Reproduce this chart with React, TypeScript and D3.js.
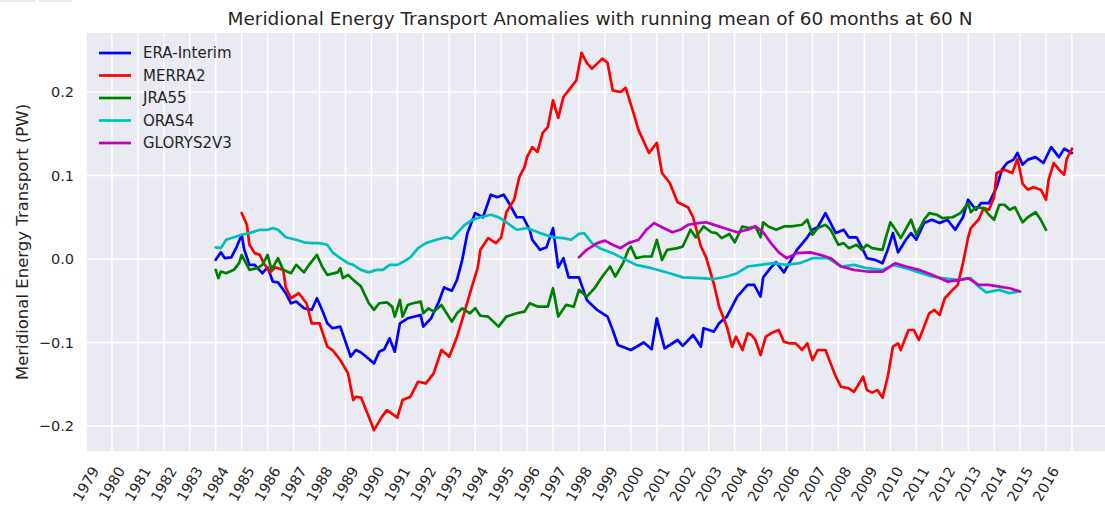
import React from 'react';
import * as d3 from 'd3';

// values: [decimal year, PW]
const eraInterim: [number, number][] = [
  [1984.0,-0.001],[1984.2,0.008],[1984.35,0.001],[1984.6,0.002],[1984.8,0.014],[1985.0,0.029],[1985.1,0.011],[1985.3,-0.007],[1985.5,-0.007],[1985.8,-0.017],[1986.0,-0.01],[1986.2,-0.027],[1986.4,-0.028],[1986.7,-0.041],[1986.9,-0.053],[1987.1,-0.051],[1987.4,-0.059],[1987.7,-0.061],[1987.9,-0.047],[1988.1,-0.061],[1988.3,-0.077],[1988.5,-0.083],[1988.8,-0.081],[1989.0,-0.099],[1989.2,-0.117],[1989.4,-0.109],[1989.6,-0.112],[1989.8,-0.117],[1990.1,-0.125],[1990.3,-0.111],[1990.5,-0.108],[1990.7,-0.095],[1990.9,-0.111],[1991.1,-0.077],[1991.4,-0.071],[1991.9,-0.067],[1992.0,-0.081],[1992.3,-0.071],[1992.6,-0.051],[1992.8,-0.034],[1993.1,-0.038],[1993.3,-0.025],[1993.5,-0.001],[1993.7,0.031],[1994.0,0.055],[1994.3,0.05],[1994.6,0.077],[1994.85,0.074],[1995.1,0.077],[1995.3,0.067],[1995.6,0.05],[1995.85,0.05],[1996.1,0.035],[1996.2,0.023],[1996.5,0.011],[1996.75,0.014],[1997.0,0.037],[1997.2,-0.01],[1997.4,0.001],[1997.6,-0.022],[1998.0,-0.022],[1998.3,-0.049],[1998.7,-0.061],[1999.1,-0.069],[1999.3,-0.085],[1999.5,-0.103],[2000.0,-0.109],[2000.5,-0.1],[2000.8,-0.108],[2001.0,-0.071],[2001.3,-0.107],[2001.8,-0.097],[2002.0,-0.104],[2002.4,-0.091],[2002.7,-0.105],[2002.8,-0.083],[2003.2,-0.087],[2003.4,-0.077],[2003.7,-0.069],[2003.9,-0.057],[2004.1,-0.045],[2004.5,-0.031],[2004.75,-0.031],[2005.0,-0.045],[2005.1,-0.022],[2005.4,-0.01],[2005.6,-0.004],[2005.9,-0.016],[2006.1,-0.005],[2006.4,0.011],[2006.8,0.026],[2007.0,0.035],[2007.2,0.038],[2007.5,0.055],[2007.7,0.043],[2007.9,0.031],[2008.2,0.035],[2008.4,0.026],[2008.7,0.026],[2008.9,0.014],[2009.1,0.001],[2009.4,-0.001],[2009.7,-0.005],[2009.9,0.011],[2010.1,0.031],[2010.3,0.008],[2010.6,0.023],[2010.8,0.031],[2011.0,0.023],[2011.3,0.043],[2011.6,0.047],[2011.9,0.043],[2012.2,0.047],[2012.5,0.035],[2012.8,0.05],[2013.0,0.071],[2013.3,0.059],[2013.5,0.067],[2013.8,0.067],[2014.1,0.086],[2014.3,0.107],[2014.5,0.115],[2014.75,0.119],[2014.9,0.127],[2015.1,0.113],[2015.3,0.119],[2015.6,0.122],[2015.9,0.115],[2016.2,0.134],[2016.5,0.122],[2016.7,0.132],[2017.0,0.127],
];

const merra2: [number, number][] = [
  [1985.0,0.055],[1985.2,0.041],[1985.3,0.017],[1985.5,0.007],[1985.7,0.005],[1985.85,-0.005],[1986.1,-0.016],[1986.3,-0.01],[1986.6,-0.013],[1986.7,-0.034],[1986.9,-0.047],[1987.2,-0.041],[1987.5,-0.053],[1987.7,-0.077],[1988.0,-0.077],[1988.3,-0.105],[1988.5,-0.109],[1988.8,-0.121],[1989.1,-0.137],[1989.3,-0.169],[1989.4,-0.165],[1989.6,-0.166],[1989.9,-0.189],[1990.1,-0.205],[1990.4,-0.189],[1990.6,-0.181],[1991.0,-0.19],[1991.2,-0.169],[1991.5,-0.165],[1991.8,-0.147],[1992.1,-0.149],[1992.4,-0.137],[1992.7,-0.109],[1993.0,-0.117],[1993.3,-0.093],[1993.5,-0.073],[1993.8,-0.041],[1994.1,-0.01],[1994.2,0.011],[1994.5,0.025],[1994.8,0.019],[1995.0,0.026],[1995.2,0.056],[1995.5,0.071],[1995.7,0.098],[1995.9,0.11],[1996.0,0.122],[1996.2,0.134],[1996.4,0.128],[1996.6,0.151],[1996.8,0.158],[1997.0,0.19],[1997.2,0.169],[1997.4,0.194],[1997.6,0.202],[1997.9,0.214],[1998.1,0.247],[1998.3,0.235],[1998.5,0.228],[1998.9,0.24],[1999.1,0.235],[1999.3,0.202],[1999.6,0.2],[1999.8,0.205],[2000.1,0.175],[2000.3,0.154],[2000.7,0.127],[2001.0,0.139],[2001.2,0.103],[2001.5,0.091],[2001.8,0.068],[2002.2,0.062],[2002.4,0.05],[2002.7,0.015],[2002.9,0.002],[2003.2,-0.03],[2003.4,-0.057],[2003.7,-0.081],[2003.9,-0.105],[2004.05,-0.093],[2004.3,-0.109],[2004.5,-0.089],[2004.65,-0.091],[2004.8,-0.097],[2005.0,-0.115],[2005.2,-0.093],[2005.4,-0.089],[2005.7,-0.085],[2005.9,-0.099],[2006.1,-0.101],[2006.35,-0.101],[2006.6,-0.109],[2006.8,-0.101],[2007.0,-0.121],[2007.2,-0.109],[2007.5,-0.109],[2007.7,-0.125],[2007.9,-0.141],[2008.1,-0.153],[2008.4,-0.155],[2008.6,-0.159],[2008.8,-0.149],[2008.95,-0.141],[2009.1,-0.157],[2009.3,-0.16],[2009.5,-0.157],[2009.7,-0.166],[2009.9,-0.141],[2010.1,-0.105],[2010.3,-0.101],[2010.4,-0.109],[2010.7,-0.085],[2010.9,-0.085],[2011.1,-0.097],[2011.3,-0.081],[2011.5,-0.065],[2011.7,-0.061],[2011.9,-0.067],[2012.1,-0.047],[2012.4,-0.037],[2012.6,-0.031],[2012.8,-0.005],[2013.0,0.026],[2013.1,0.037],[2013.4,0.047],[2013.6,0.061],[2013.8,0.059],[2014.0,0.074],[2014.1,0.103],[2014.4,0.107],[2014.7,0.103],[2014.9,0.12],[2015.1,0.09],[2015.3,0.083],[2015.5,0.086],[2015.8,0.083],[2016.0,0.071],[2016.1,0.095],[2016.3,0.115],[2016.5,0.107],[2016.7,0.101],[2016.8,0.12],[2017.0,0.132],
];

const jra55: [number, number][] = [
  [1984.0,-0.013],[1984.1,-0.023],[1984.2,-0.015],[1984.4,-0.017],[1984.7,-0.013],[1984.9,-0.005],[1985.0,0.005],[1985.1,-0.001],[1985.3,-0.013],[1985.6,-0.011],[1985.8,-0.007],[1986.0,0.005],[1986.15,-0.013],[1986.4,0.001],[1986.6,-0.013],[1986.75,-0.015],[1986.9,-0.017],[1987.1,-0.007],[1987.4,-0.016],[1987.6,-0.007],[1987.9,0.005],[1988.1,-0.009],[1988.3,-0.019],[1988.7,-0.016],[1988.8,-0.011],[1988.9,-0.023],[1989.1,-0.019],[1989.3,-0.025],[1989.6,-0.033],[1989.9,-0.053],[1990.1,-0.061],[1990.3,-0.053],[1990.6,-0.052],[1990.8,-0.057],[1990.9,-0.069],[1991.1,-0.049],[1991.2,-0.069],[1991.4,-0.055],[1991.6,-0.053],[1991.9,-0.051],[1992.0,-0.065],[1992.2,-0.059],[1992.4,-0.063],[1992.7,-0.055],[1992.9,-0.065],[1993.1,-0.075],[1993.3,-0.065],[1993.5,-0.059],[1993.8,-0.065],[1994.0,-0.059],[1994.2,-0.068],[1994.5,-0.069],[1994.9,-0.081],[1995.2,-0.069],[1995.6,-0.065],[1995.9,-0.063],[1996.1,-0.053],[1996.4,-0.057],[1996.8,-0.057],[1997.0,-0.035],[1997.2,-0.069],[1997.5,-0.055],[1997.8,-0.057],[1998.0,-0.037],[1998.3,-0.045],[1998.6,-0.035],[1998.9,-0.021],[1999.2,-0.009],[1999.4,-0.021],[1999.7,-0.005],[1999.9,0.011],[2000.0,0.015],[2000.2,0.001],[2000.5,0.003],[2000.8,0.003],[2001.0,0.023],[2001.2,-0.001],[2001.4,0.011],[2001.8,0.013],[2002.0,0.015],[2002.3,0.035],[2002.5,0.026],[2002.8,0.039],[2003.1,0.032],[2003.3,0.031],[2003.5,0.025],[2003.8,0.03],[2004.0,0.02],[2004.3,0.039],[2004.55,0.037],[2004.8,0.039],[2005.0,0.026],[2005.1,0.044],[2005.3,0.039],[2005.6,0.035],[2005.9,0.039],[2006.2,0.039],[2006.6,0.041],[2006.8,0.047],[2007.0,0.029],[2007.2,0.037],[2007.5,0.041],[2007.7,0.035],[2008.0,0.017],[2008.2,0.019],[2008.4,0.013],[2008.7,0.017],[2008.9,0.011],[2009.1,0.017],[2009.3,0.013],[2009.7,0.011],[2009.8,0.023],[2010.0,0.044],[2010.2,0.035],[2010.4,0.025],[2010.8,0.047],[2011.0,0.029],[2011.3,0.047],[2011.5,0.055],[2011.8,0.053],[2012.0,0.049],[2012.4,0.05],[2012.7,0.055],[2013.0,0.067],[2013.1,0.056],[2013.3,0.062],[2013.6,0.061],[2013.8,0.053],[2014.0,0.047],[2014.2,0.065],[2014.4,0.065],[2014.6,0.059],[2014.8,0.062],[2015.1,0.044],[2015.3,0.05],[2015.6,0.056],[2015.8,0.047],[2016.0,0.035],
];

const oras4: [number, number][] = [
  [1984.0,0.014],[1984.2,0.013],[1984.4,0.023],[1984.7,0.026],[1985.0,0.029],[1985.3,0.031],[1985.7,0.035],[1986.0,0.035],[1986.2,0.037],[1986.4,0.035],[1986.7,0.026],[1987.1,0.023],[1987.4,0.02],[1987.7,0.019],[1988.0,0.019],[1988.3,0.017],[1988.5,0.008],[1988.8,0.001],[1989.1,-0.005],[1989.3,-0.007],[1989.6,-0.013],[1989.9,-0.016],[1990.2,-0.013],[1990.45,-0.013],[1990.7,-0.007],[1991.0,-0.007],[1991.2,-0.004],[1991.5,0.002],[1991.8,0.013],[1992.1,0.019],[1992.5,0.023],[1992.9,0.026],[1993.1,0.024],[1993.3,0.031],[1993.6,0.041],[1993.9,0.047],[1994.2,0.05],[1994.6,0.053],[1994.9,0.05],[1995.2,0.044],[1995.6,0.035],[1996.0,0.037],[1996.5,0.031],[1997.0,0.026],[1997.4,0.025],[1997.7,0.023],[1998.0,0.03],[1998.2,0.031],[1998.5,0.019],[1998.8,0.013],[1999.3,0.007],[1999.8,-0.001],[2000.2,-0.007],[2000.8,-0.011],[2001.5,-0.017],[2002.0,-0.022],[2002.7,-0.023],[2003.2,-0.024],[2003.7,-0.021],[2004.1,-0.017],[2004.5,-0.009],[2005.0,-0.007],[2005.5,-0.005],[2006.0,-0.007],[2006.5,-0.005],[2007.0,0.001],[2007.6,0.001],[2008.1,-0.009],[2008.6,-0.007],[2009.1,-0.011],[2009.7,-0.013],[2010.1,-0.007],[2010.6,-0.011],[2011.1,-0.016],[2011.6,-0.021],[2012.0,-0.023],[2012.6,-0.025],[2013.1,-0.023],[2013.4,-0.033],[2013.7,-0.04],[2014.2,-0.037],[2014.6,-0.041],[2014.9,-0.039],
];

const glorys2v3: [number, number][] = [
  [1998.0,0.002],[1998.3,0.011],[1998.7,0.019],[1999.0,0.022],[1999.3,0.017],[1999.6,0.013],[1999.9,0.019],[2000.3,0.023],[2000.6,0.035],[2000.9,0.043],[2001.2,0.038],[2001.6,0.032],[2001.9,0.035],[2002.2,0.041],[2002.6,0.043],[2002.9,0.044],[2003.3,0.04],[2003.7,0.036],[2004.1,0.032],[2004.5,0.035],[2004.8,0.039],[2005.1,0.032],[2005.4,0.019],[2005.7,0.008],[2006.0,0.001],[2006.4,0.007],[2006.9,0.008],[2007.3,0.005],[2007.7,0.001],[2008.1,-0.009],[2008.6,-0.013],[2009.1,-0.015],[2009.7,-0.015],[2010.2,-0.005],[2010.6,-0.009],[2011.1,-0.013],[2011.6,-0.019],[2012.2,-0.027],[2012.7,-0.025],[2013.0,-0.023],[2013.4,-0.031],[2013.8,-0.031],[2014.2,-0.033],[2014.6,-0.035],[2015.0,-0.039],
];

const seriesNames = ['ERA-Interim', 'MERRA2', 'JRA55', 'ORAS4', 'GLORYS2V3'];
const seriesColors = ['#0000ff', '#ff0000', '#008000', '#00bfbf', '#bf00bf'];
const seriesData = [eraInterim, merra2, jra55, oras4, glorys2v3];

const tickYears = d3.range(1979, 2018); // grid lines 1979..2017
const tickLabels = d3.range(1979, 2017).map(String); // labels only to 2016
const yTicks = [-0.2, -0.1, 0.0, 0.1, 0.2];

const W = 1105, H = 509;
const left = 86, right = 1114, top = 33, bottom = 451;
const font = 'DejaVu Sans, sans-serif';
const textColor = '#262626';

export default function App() {
  const x = d3.scaleLinear().domain([1979, 2016]).range([left, 1046]);
  const y = d3.scaleLinear().domain([0, 0.1]).range([259, 175.5]);
  const line = d3.line<[number, number]>().x(d => x(d[0])).y(d => y(d[1]));
  const fmt = (v: number) => (v < 0 ? '\u2212' : '') + Math.abs(v).toFixed(1);

  return (
    <div style={{ position: 'absolute', left: 0, top: 0 }}>
      <svg width={W} height={H} style={{ display: 'block' }}>
        <rect x={0} y={0} width={W} height={H} fill="#ffffff" />
        <rect x={0} y={0} width={35} height={2} fill="#eaeaf2" />
        <rect x={39} y={0} width={33} height={2} fill="#eaeaf2" />
        <defs>
          <clipPath id="plot">
            <rect x={left} y={top} width={right - left} height={bottom - top} />
          </clipPath>
        </defs>
        <rect x={left} y={top} width={right - left} height={bottom - top} fill="#eaeaf2" />
        <g stroke="#ffffff" strokeWidth={1.4}>
          {tickYears.map(t => (
            <line key={'gx' + t} x1={x(t)} x2={x(t)} y1={top} y2={bottom} />
          ))}
          {yTicks.map(t => (
            <line key={'gy' + t} x1={left} x2={right} y1={y(t)} y2={y(t)} />
          ))}
        </g>
        <g clipPath="url(#plot)" fill="none" strokeWidth={2.7} strokeLinejoin="round" strokeLinecap="round">
          {seriesData.map((d, i) => (
            <path key={seriesNames[i]} d={line(d) || ''} stroke={seriesColors[i]} />
          ))}
        </g>
        <g fontFamily={font} fontSize={14.5} fill={textColor}>
          {yTicks.map(t => (
            <text key={'yl' + t} x={74} y={y(t)} textAnchor="end" dominantBaseline="central">
              {fmt(t)}
            </text>
          ))}
          {tickLabels.map((lab, i) => {
            const cx = x(1979 + i);
            return (
              <text key={'xl' + lab} transform={`translate(${cx},484) rotate(-60)`} textAnchor="middle" dominantBaseline="central">
                {lab}
              </text>
            );
          })}
        </g>
        <text x={22} y={(top + bottom) / 2} transform={`rotate(-90, 22, ${(top + bottom) / 2})`} textAnchor="middle"
          dominantBaseline="central" fontFamily={font} fontSize={16.5} fill={textColor}>
          Meridional Energy Transport (PW)
        </text>
        <text x={600} y={18} textAnchor="middle" dominantBaseline="central" fontFamily={font} fontSize={18.5} fill={textColor}>
          Meridional Energy Transport Anomalies with running mean of 60 months at 60 N
        </text>
        <g fontFamily={font} fontSize={15} fill={textColor}>
          {seriesNames.map((name, i) => {
            const ly = 53 + i * 22.5;
            return (
              <g key={'lg' + name}>
                <line x1={99} x2={131} y1={ly} y2={ly} stroke={seriesColors[i]} strokeWidth={2.7} />
                <text x={143} y={ly} dominantBaseline="central">{name}</text>
              </g>
            );
          })}
        </g>
      </svg>
    </div>
  );
}
